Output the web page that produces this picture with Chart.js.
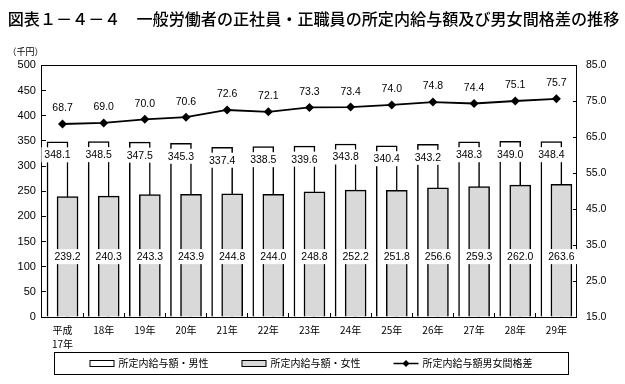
<!DOCTYPE html>
<html><head><meta charset="utf-8">
<script src="https://cdn.jsdelivr.net/npm/chart.js@4.4.1/dist/chart.umd.min.js"></script>
<style>html,body{margin:0;padding:0;background:#fff}#wrap{width:625px;height:384px}</style>
</head><body><div id="wrap"><canvas id="c" width="625" height="384"></canvas></div>
<script>
const categories = [['平成','17年'],'18年','19年','20年','21年','22年','23年','24年','25年','26年','27年','28年','29年'];
const maleWage = [348.1,348.5,347.5,345.3,337.4,338.5,339.6,343.8,340.4,343.2,348.3,349.0,348.4];
const femaleWage = [239.2,240.3,243.3,243.9,244.8,244.0,248.8,252.2,251.8,256.6,259.3,262.0,263.6];
const gapRatio = [68.7,69.0,70.0,70.6,72.6,72.1,73.3,73.4,74.0,74.8,74.4,75.1,75.7];
const seriesNames = ['所定内給与額・男性','所定内給与額・女性','所定内給与額男女間格差'];
const titleText = '図表１－４－４　一般労働者の正社員・正職員の所定内給与額及び男女間格差の推移';
const unitText = '（千円）';

const JP = '"Noto Sans CJK JP", "Noto Sans", sans-serif';
const NUM = '"Liberation Sans", Arial, sans-serif';
const NARROW = '"Liberation Sans Narrow", "Arial Narrow", "Liberation Sans", sans-serif';
const FEMALE_COLOR = '#d9d9d9';
const BAR_SHIFT = 0.122;

const valueLabels = {
  id: 'valueLabels',
  afterDatasetsDraw(chart) {
    const ctx = chart.ctx;
    const yScale = chart.scales.y;
    ctx.save();
    ctx.font = '10.5px ' + NARROW;
    ctx.textAlign = 'center';
    ctx.textBaseline = 'middle';
    chart.data.datasets.forEach((ds, di) => {
      const meta = chart.getDatasetMeta(di);
      meta.data.forEach((el, i) => {
        const raw = ds.data[i];
        const txt = Number(typeof raw === 'object' ? raw.y : raw).toFixed(1);
        let cy, box = true;
        if (ds.role === 'gap') { cy = el.y - 16; box = false; }
        else if (ds.role === 'male') { cy = el.y + 13; }
        else { cy = yScale.getPixelForValue(120); }
        const w = ctx.measureText(txt).width + 6;
        if (box) { ctx.fillStyle = '#fff'; ctx.fillRect(el.x - w / 2, cy - 7.5, w, 15); }
        ctx.fillStyle = '#000';
        ctx.fillText(txt, el.x, cy + 0.5);
      });
    });
    ctx.restore();
  }
};

const boxLegend = {
  id: 'boxLegend',
  afterDraw(chart) {
    const ctx = chart.ctx;
    const roles = ['male', 'female', 'gap'];
    const L = 54, R = 568, T = 352, B = 374;
    ctx.save();
    ctx.strokeStyle = '#000'; ctx.lineWidth = 1;
    ctx.strokeRect(L + 0.5, T + 0.5, R - L, B - T);
    ctx.font = '10px ' + JP;
    ctx.textBaseline = 'middle'; ctx.textAlign = 'left';
    const sw = 25, sg = 4, gap = 33;
    const items = roles.map(r => chart.data.datasets.find(d => d.role === r));
    let total = 0;
    items.forEach((ds, k) => { total += sw + sg + ctx.measureText(ds.label).width + (k ? gap : 0); });
    let x = (L + R) / 2 - total / 2;
    const cy = (T + B) / 2 + 0.5;
    items.forEach(ds => {
      if (ds.role === 'gap') {
        ctx.strokeStyle = '#000'; ctx.lineWidth = 1.5;
        ctx.beginPath(); ctx.moveTo(x, cy); ctx.lineTo(x + sw, cy); ctx.stroke();
        ctx.fillStyle = '#000';
        const mx = x + sw / 2, r = 3.5;
        ctx.beginPath(); ctx.moveTo(mx, cy - r); ctx.lineTo(mx + r, cy); ctx.lineTo(mx, cy + r); ctx.lineTo(mx - r, cy); ctx.closePath(); ctx.fill();
      } else {
        ctx.fillStyle = ds.backgroundColor; ctx.strokeStyle = '#000'; ctx.lineWidth = 1;
        ctx.fillRect(x, cy - 3, sw, 6); ctx.strokeRect(x + 0.5, cy - 3, sw - 1, 6);
      }
      x += sw + sg;
      ctx.fillStyle = '#000';
      ctx.fillText(ds.label, x, cy);
      x += ctx.measureText(ds.label).width + gap;
    });
    ctx.restore();
  }
};

const barCommon = { type: 'bar', xAxisID: 'xb', yAxisID: 'y', borderColor: '#000', borderWidth: 1.5,
  grouped: false, barThickness: 21 };

new Chart(document.getElementById('c'), {
  data: {
    labels: categories,
    datasets: [
      { type: 'line', role: 'gap', label: seriesNames[2], data: gapRatio, xAxisID: 'x', yAxisID: 'y1',
        borderColor: '#000', backgroundColor: '#000', borderWidth: 1.8,
        pointStyle: 'rectRot', pointRadius: 4.5, pointBackgroundColor: '#000', pointBorderWidth: 0, order: 0 },
      { ...barCommon, role: 'female', label: seriesNames[1],
        data: femaleWage.map((v, i) => ({ x: i + BAR_SHIFT, y: v })), backgroundColor: FEMALE_COLOR, order: 1 },
      { ...barCommon, role: 'male', label: seriesNames[0],
        data: maleWage.map((v, i) => ({ x: i - BAR_SHIFT, y: v })), backgroundColor: '#fff', order: 2 }
    ]
  },
  options: {
    responsive: false, animation: false,
    layout: { padding: { left: 7.6, right: 5.6, top: 0, bottom: 23 } },
    plugins: {
      legend: { display: false }, tooltip: { enabled: false },
      title: { display: true, text: titleText, color: '#000', font: { family: JP, size: 16.1, weight: '500' }, padding: { top: 9, bottom: 8.3 } },
      subtitle: { display: true, text: unitText, align: 'start', color: '#000', font: { family: JP, size: 9 }, padding: { top: 10, bottom: 8 } }
    },
    scales: {
      x: { type: 'category', position: 'bottom', offset: true,
        grid: { display: true, drawOnChartArea: false, offset: true, tickLength: -4, color: '#000' },
        border: { display: true, color: '#000', width: 1 },
        ticks: { color: '#000', font: { family: JP, size: 10, lineHeight: 1.4 }, padding: 10, maxRotation: 0, autoSkip: false } },
      xb: { type: 'linear', position: 'top', offset: false, bounds: 'data', min: -0.5, max: 12.5, display: true,
        grid: { display: false, drawTicks: false }, ticks: { display: false, stepSize: 0.5 },
        border: { display: true, color: '#000', width: 1 } },
      y: { position: 'left', min: 0, max: 500,
        ticks: { stepSize: 50, color: '#000', font: { family: NUM, size: 11 }, padding: 10 },
        grid: { drawOnChartArea: false, tickLength: -4, color: '#000' }, border: { color: '#000', width: 1 } },
      y1: { position: 'right', min: 15, max: 85,
        ticks: { stepSize: 10, color: '#000', font: { family: NUM, size: 10.5 }, padding: 13, callback: v => Number(v).toFixed(1) },
        grid: { drawOnChartArea: false, tickLength: -4, color: '#000' }, border: { color: '#000', width: 1 } }
    }
  },
  plugins: [valueLabels, boxLegend]
});
</script></body></html>
